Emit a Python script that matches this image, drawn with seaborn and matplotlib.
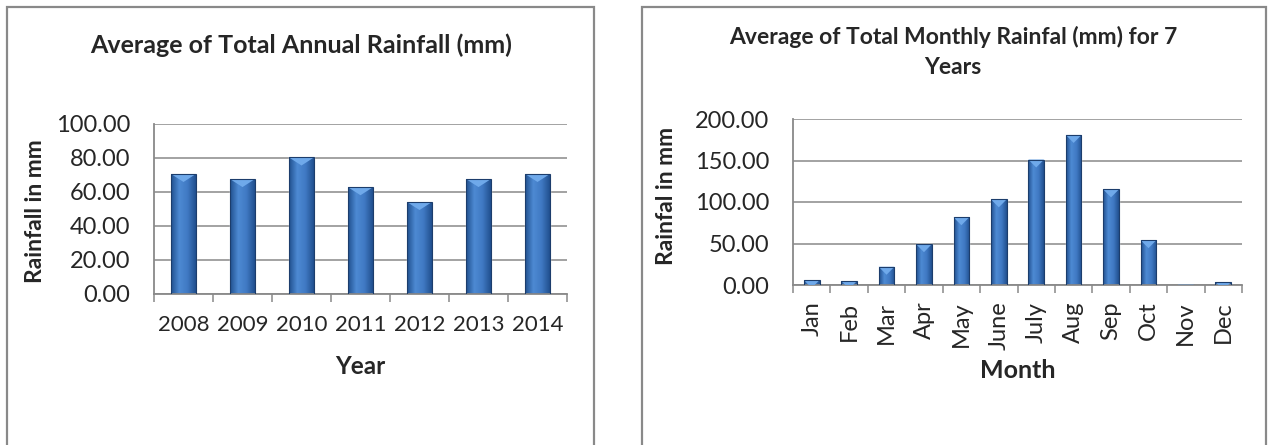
import numpy as np
import pandas as pd
import matplotlib
matplotlib.use("Agg")
import matplotlib.pyplot as plt
from matplotlib.patches import Rectangle, Polygon
from matplotlib.colors import LinearSegmentedColormap
import seaborn as sns

# data
years = ["2008", "2009", "2010", "2011", "2012", "2013", "2014"]
annual_rain = [70.6, 67.6, 80.3, 62.8, 54.1, 67.6, 70.6]

months = ["Jan", "Feb", "Mar", "Apr", "May", "June", "July", "Aug", "Sep", "Oct", "Nov", "Dec"]
monthly_rain = [6.0, 4.8, 22.0, 49.2, 81.6, 103.2, 151.2, 180.8, 115.2, 54.0, 0.4, 3.6]

sns.set_style("white")
plt.rcParams["font.family"] = ["Lato", "DejaVu Sans"]

GRID = "#898989"
BAR = "#3a72bb"
EDGE = "#1c3d6c"
bar_cmap = LinearSegmentedColormap.from_list("bevel", ["#21508f", "#4d8ad3", "#4079c3", "#21508f"])

W, H = 1269, 445
fig = plt.figure(figsize=(W / 100, H / 100), dpi=100)


def px_axes(x0, x1, y_top, y_bot):
    return fig.add_axes([x0 / W, 1 - y_bot / H, (x1 - x0) / W, (y_bot - y_top) / H])


def frame(x0, x1):
    fig.add_artist(Rectangle((x0 / W, -0.05), (x1 - x0) / W, 1.05 - 7 / H,
                             transform=fig.transFigure, fill=False, ec=GRID, lw=1.6))


def style_axes(ax, ymax, ystep, n):
    ax.set_ylim(0, ymax)
    ax.set_xlim(-0.5, n - 0.5)
    ax.set_yticks(np.arange(0, ymax + 1, ystep))
    ax.set_yticklabels([f"{v:.2f}" for v in np.arange(0, ymax + 1, ystep)])
    ax.grid(axis="y", color=GRID, lw=1.1)
    ax.set_axisbelow(True)
    for s in ["top", "right"]:
        ax.spines[s].set_visible(False)
    for s in ["left", "bottom"]:
        ax.spines[s].set_color(GRID)
        ax.spines[s].set_linewidth(1.3)
    ax.set_xticks(np.arange(-0.5, n, 1), minor=True)
    ax.tick_params(axis="y", which="major", length=6, width=1.1, color=GRID, pad=11, labelsize=17)
    ax.tick_params(axis="x", which="major", length=0, labelsize=17)
    ax.tick_params(axis="x", which="minor", length=6, width=1.1, color=GRID, bottom=True)


def bevel_bars(ax):
    # gradient fill + light top triangle, like the original's 3D bars
    grad = np.linspace(0, 1, 64).reshape(1, -1)
    ppy = ax.transData.transform((0, 1))[1] - ax.transData.transform((0, 0))[1]
    for p in list(ax.patches):
        x, w, h = p.get_x(), p.get_width(), p.get_height()
        if h <= 0:
            continue
        im = ax.imshow(grad, cmap=bar_cmap, aspect="auto", extent=[x, x + w, 0, h], zorder=2.5)
        im.set_clip_path(p)
        d = 8 / ppy
        tri = Polygon([(x, h), (x + w, h), (x + w / 2, h - d)], closed=True,
                      fc="#6fa9ea", ec="none", zorder=2.6)
        tri.set_clip_path(p)
        ax.add_patch(tri)
        ax.add_patch(Rectangle((x, 0), w, h, fill=False, ec=EDGE, lw=0.8, zorder=2.7))


# left chart: annual
frame(7, 594)
ax1 = px_axes(154, 567, 124, 294)
df1 = pd.DataFrame({"Year": years, "Rain": annual_rain})
sns.barplot(data=df1, x="Year", y="Rain", ax=ax1, color=BAR, width=0.42, saturation=1)
style_axes(ax1, 100, 20, len(years))
ax1.tick_params(axis="x", which="major", pad=15, labelsize=16)
bevel_bars(ax1)
ax1.set_xlim(-0.5, len(years) - 0.5)
ax1.set_ylim(0, 100)
ax1.set_xlabel("Year", fontsize=17.5, fontweight="bold")
ax1.set_ylabel("Rainfall in mm", fontsize=16.5, fontweight="bold")
ax1.xaxis.label.set_va("center")
ax1.yaxis.label.set_va("center")
ax1.xaxis.set_label_coords(0.499, -0.424)
ax1.yaxis.set_label_coords(-0.288, 0.488)
fig.text(301 / W, 1 - 45 / H, "Average of Total Annual Rainfall (mm)",
         ha="center", va="center", fontsize=18, fontweight="bold")

# right chart: monthly
frame(642, 1266)
ax2 = px_axes(793, 1242, 119, 285)
df2 = pd.DataFrame({"Month": months, "Rain": monthly_rain})
sns.barplot(data=df2, x="Month", y="Rain", ax=ax2, color=BAR, width=0.42, saturation=1)
style_axes(ax2, 200, 50, len(months))
ax2.tick_params(axis="x", which="major", pad=12, labelrotation=90)
bevel_bars(ax2)
ax2.set_xlim(-0.5, len(months) - 0.5)
ax2.set_ylim(0, 200)
ax2.set_xlabel("Month", fontsize=18, fontweight="bold")
ax2.set_ylabel("Rainfal in mm", fontsize=16.5, fontweight="bold")
ax2.xaxis.label.set_va("center")
ax2.yaxis.label.set_va("center")
ax2.xaxis.set_label_coords(0.5, -0.515)
ax2.yaxis.set_label_coords(-0.281, 0.536)
fig.text(953 / W, 1 - 52 / H, "Average of Total Monthly Rainfal (mm) for 7\nYears",
         ha="center", va="center", fontsize=16.5, fontweight="bold", linespacing=1.5)

fig.savefig("out.png", dpi=100)
